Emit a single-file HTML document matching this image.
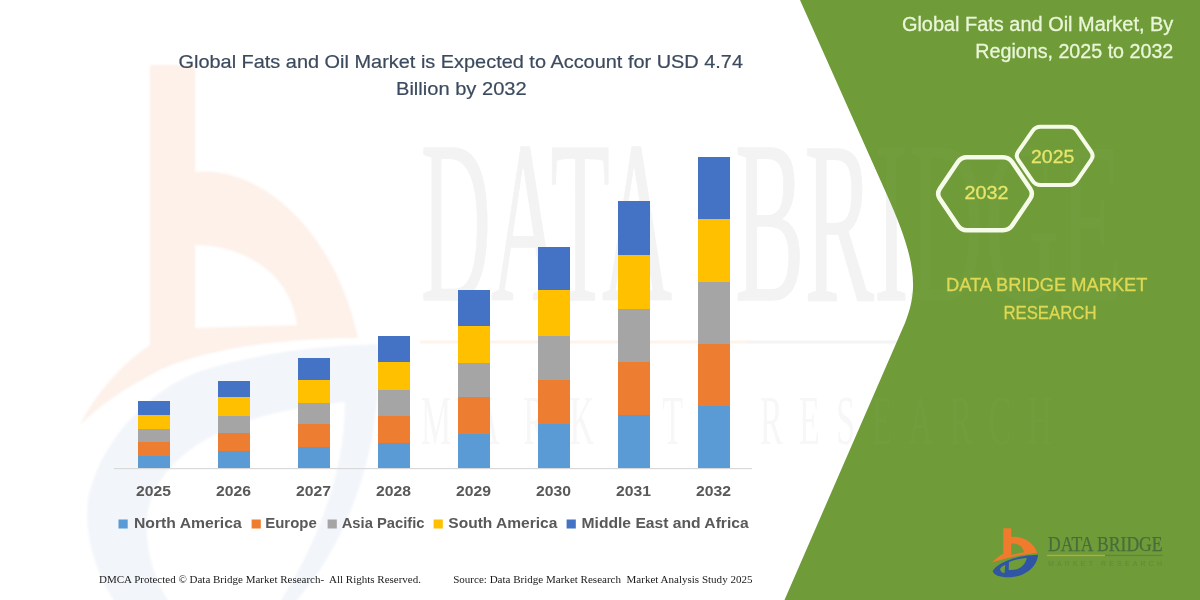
<!DOCTYPE html>
<html lang="en">
<head>
<meta charset="utf-8">
<title>Global Fats and Oil Market</title>
<style>
html,body{margin:0;padding:0;background:#fff;}
body{width:1200px;height:600px;overflow:hidden;font-family:"Liberation Sans",sans-serif;}
svg{display:block;}
.sans{font-family:"Liberation Sans",sans-serif;}
.serif{font-family:"Liberation Serif",serif;}
</style>
</head>
<body>
<svg width="1200" height="600" viewBox="0 0 1200 600">
<defs>
<filter id="blur2" x="-10%" y="-10%" width="120%" height="120%"><feGaussianBlur stdDeviation="1.2"/></filter>
<filter id="blur1" x="-10%" y="-10%" width="120%" height="120%"><feGaussianBlur stdDeviation="0.6"/></filter>
<clipPath id="panelclip"><path d="M800,0 L887,195 C904,233 914,262 913,288 C912.5,300 910,310 905,323 L784.5,600 L1200,600 L1200,0 Z"/></clipPath>
</defs>
<rect width="1200" height="600" fill="#ffffff"/>

<!-- faint watermark logo (left) -->
<g id="wm-logo" filter="url(#blur2)">
<path d="M150,65 L195,65 L195,172 C260,165 335,230 358,338 C300,338 215,345 160,370 C125,388 100,405 80,425 C95,395 120,365 150,345 Z M195,245 C240,245 290,270 297,325 L195,328 Z" fill="#fdf1ea" fill-rule="evenodd"/>
<path d="M88,500 C100,440 150,390 198,372 C260,352 320,346 378,344 C382,420 365,500 320,570 C310,585 300,595 290,610 L120,610 C95,575 84,535 88,500 Z M147,520 C150,470 200,430 280,412 C305,407 325,404 345,402 C345,470 320,540 275,610 L175,610 C155,585 145,550 147,520 Z" fill="#f2f5fa" fill-rule="evenodd"/>
</g>

<!-- faint watermark wordmark -->
<g id="wm-text" class="serif" fill="#f3f3f3" stroke="#f3f3f3" stroke-width="1.5" filter="url(#blur1)">
<text x="421" y="300" font-size="232" textLength="251" lengthAdjust="spacingAndGlyphs">DATA</text>
<text x="735" y="300" font-size="232" textLength="388" lengthAdjust="spacingAndGlyphs">BRIDGE</text>
<g font-size="34" fill="#f7f7f7" stroke="none" transform="translate(0,444) scale(1,2.05)">
<text x="421" y="0" textLength="262" lengthAdjust="spacing">MARKET</text>
<text x="760" y="0" textLength="292" lengthAdjust="spacing">RESEARCH</text>
</g>
</g>
<rect x="420" y="340.5" width="327" height="3" fill="#fdf4ec"/>
<rect x="747" y="340.5" width="150" height="3" fill="#f4f4f4"/>

<!-- green panel -->
<path id="panel" d="M800,0 L887,195 C904,233 914,262 913,288 C912.5,300 910,310 905,323 L784.5,600 L1200,600 L1200,0 Z" fill="#6f9b38"/>

<!-- watermark continuing over green -->
<g class="serif" fill="#ffffff" opacity="0.025" filter="url(#blur1)" clip-path="url(#panelclip)">
<text x="735" y="300" font-size="232" textLength="388" lengthAdjust="spacingAndGlyphs">BRIDGE</text>
<text transform="translate(0,444) scale(1,2.05)" x="760" y="0" font-size="34" textLength="292" lengthAdjust="spacing">RESEARCH</text>
</g>

<!-- axis -->
<rect x="114" y="468" width="638" height="1.2" fill="#d9d9d9"/>

<!-- bars -->
<g id="bars" shape-rendering="crispEdges">
<rect x="138" y="401" width="31.5" height="14.0" fill="#4472c4"/>
<rect x="138" y="415" width="31.5" height="14.0" fill="#ffc000"/>
<rect x="138" y="429" width="31.5" height="13.0" fill="#a5a5a5"/>
<rect x="138" y="442" width="31.5" height="14.0" fill="#ed7d31"/>
<rect x="138" y="456" width="31.5" height="12.2" fill="#5b9bd5"/>
<rect x="218" y="380.5" width="31.5" height="16.5" fill="#4472c4"/>
<rect x="218" y="397" width="31.5" height="19.0" fill="#ffc000"/>
<rect x="218" y="416" width="31.5" height="16.5" fill="#a5a5a5"/>
<rect x="218" y="432.5" width="31.5" height="18.5" fill="#ed7d31"/>
<rect x="218" y="451" width="31.5" height="17.2" fill="#5b9bd5"/>
<rect x="298" y="358" width="31.5" height="22.0" fill="#4472c4"/>
<rect x="298" y="380" width="31.5" height="22.5" fill="#ffc000"/>
<rect x="298" y="402.5" width="31.5" height="21.5" fill="#a5a5a5"/>
<rect x="298" y="424" width="31.5" height="23.0" fill="#ed7d31"/>
<rect x="298" y="447" width="31.5" height="21.2" fill="#5b9bd5"/>
<rect x="378" y="335.5" width="31.5" height="26.5" fill="#4472c4"/>
<rect x="378" y="362" width="31.5" height="28.0" fill="#ffc000"/>
<rect x="378" y="390" width="31.5" height="26.0" fill="#a5a5a5"/>
<rect x="378" y="416" width="31.5" height="26.5" fill="#ed7d31"/>
<rect x="378" y="442.5" width="31.5" height="25.7" fill="#5b9bd5"/>
<rect x="458" y="290" width="31.5" height="36.0" fill="#4472c4"/>
<rect x="458" y="326" width="31.5" height="37.0" fill="#ffc000"/>
<rect x="458" y="363" width="31.5" height="34.0" fill="#a5a5a5"/>
<rect x="458" y="397" width="31.5" height="36.5" fill="#ed7d31"/>
<rect x="458" y="433.5" width="31.5" height="34.7" fill="#5b9bd5"/>
<rect x="538" y="246.5" width="31.5" height="43.5" fill="#4472c4"/>
<rect x="538" y="290" width="31.5" height="45.5" fill="#ffc000"/>
<rect x="538" y="335.5" width="31.5" height="44.1" fill="#a5a5a5"/>
<rect x="538" y="379.6" width="31.5" height="44.4" fill="#ed7d31"/>
<rect x="538" y="424" width="31.5" height="44.2" fill="#5b9bd5"/>
<rect x="618" y="201.3" width="31.5" height="53.7" fill="#4472c4"/>
<rect x="618" y="255" width="31.5" height="53.5" fill="#ffc000"/>
<rect x="618" y="308.5" width="31.5" height="53.2" fill="#a5a5a5"/>
<rect x="618" y="361.7" width="31.5" height="53.6" fill="#ed7d31"/>
<rect x="618" y="415.3" width="31.5" height="52.9" fill="#5b9bd5"/>
<rect x="698" y="156.5" width="31.5" height="62.5" fill="#4472c4"/>
<rect x="698" y="219" width="31.5" height="63.0" fill="#ffc000"/>
<rect x="698" y="282" width="31.5" height="61.5" fill="#a5a5a5"/>
<rect x="698" y="343.5" width="31.5" height="62.3" fill="#ed7d31"/>
<rect x="698" y="405.8" width="31.5" height="62.4" fill="#5b9bd5"/>
</g>

<!-- chart title -->
<g class="sans" fill="#3b4a5e" stroke="#3b4a5e" stroke-width="0.2" font-size="18.5">
<text x="178.5" y="67.5" textLength="564.5" lengthAdjust="spacingAndGlyphs">Global Fats and Oil Market is Expected to Account for USD 4.74</text>
<text x="396" y="95" textLength="130.7" lengthAdjust="spacingAndGlyphs">Billion by 2032</text>
</g>

<!-- year labels -->
<g class="sans" fill="#595959" font-size="15.5" font-weight="bold">
<text x="153.5" y="496.4" text-anchor="middle" textLength="35" lengthAdjust="spacingAndGlyphs">2025</text>
<text x="233.5" y="496.4" text-anchor="middle" textLength="35" lengthAdjust="spacingAndGlyphs">2026</text>
<text x="313.5" y="496.4" text-anchor="middle" textLength="35" lengthAdjust="spacingAndGlyphs">2027</text>
<text x="393.5" y="496.4" text-anchor="middle" textLength="35" lengthAdjust="spacingAndGlyphs">2028</text>
<text x="473.5" y="496.4" text-anchor="middle" textLength="35" lengthAdjust="spacingAndGlyphs">2029</text>
<text x="553.5" y="496.4" text-anchor="middle" textLength="35" lengthAdjust="spacingAndGlyphs">2030</text>
<text x="633.5" y="496.4" text-anchor="middle" textLength="35" lengthAdjust="spacingAndGlyphs">2031</text>
<text x="713.5" y="496.4" text-anchor="middle" textLength="35" lengthAdjust="spacingAndGlyphs">2032</text>
</g>

<!-- legend -->
<g class="sans" fill="#595959" font-size="15.5" font-weight="bold">
<rect x="118.5" y="519.5" width="9.2" height="9" fill="#5b9bd5"/>
<text x="134" y="528" textLength="107.7" lengthAdjust="spacingAndGlyphs">North America</text>
<rect x="251.6" y="519.5" width="9.2" height="9" fill="#ed7d31"/>
<text x="265.2" y="528" textLength="51.6" lengthAdjust="spacingAndGlyphs">Europe</text>
<rect x="327.6" y="519.5" width="9.2" height="9" fill="#a5a5a5"/>
<text x="341.7" y="528" textLength="82.8" lengthAdjust="spacingAndGlyphs">Asia Pacific</text>
<rect x="433.6" y="519.5" width="9.2" height="9" fill="#ffc000"/>
<text x="448.3" y="528" textLength="109.1" lengthAdjust="spacingAndGlyphs">South America</text>
<rect x="566.6" y="519.5" width="9.2" height="9" fill="#4472c4"/>
<text x="581.5" y="528" textLength="167.2" lengthAdjust="spacingAndGlyphs">Middle East and Africa</text>
</g>

<!-- footer -->
<g class="serif" fill="#1a1a1a" font-size="11.3">
<text x="99" y="583.2" textLength="322" lengthAdjust="spacingAndGlyphs" xml:space="preserve">DMCA Protected © Data Bridge Market Research-  All Rights Reserved.</text>
<text x="453.2" y="583.2" textLength="299.3" lengthAdjust="spacingAndGlyphs" xml:space="preserve">Source: Data Bridge Market Research  Market Analysis Study 2025</text>
</g>

<!-- right panel title -->
<g class="sans" fill="#eaf6d8" stroke="#eaf6d8" stroke-width="0.3" font-size="19.5">
<text x="1173.3" y="31" text-anchor="end" textLength="271.4" lengthAdjust="spacingAndGlyphs">Global Fats and Oil Market, By</text>
<text x="1173.3" y="58" text-anchor="end" textLength="198" lengthAdjust="spacingAndGlyphs">Regions, 2025 to 2032</text>
</g>

<!-- hexagons -->
<g fill="none" stroke="#f6fbe9" stroke-linejoin="round">
<path d="M1018.2,159.9 Q1015.3,155.8 1018.2,151.7 L1032.6,130.8 Q1035.5,126.7 1040.5,126.7 L1069.0,126.7 Q1074.0,126.7 1076.8,130.8 L1091.2,151.7 Q1094.0,155.8 1091.2,159.9 L1076.8,180.8 Q1074.0,184.9 1069.0,184.9 L1040.5,184.9 Q1035.5,184.9 1032.6,180.8 Z" stroke-width="4"/>
<path d="M939.8,198.7 Q936.5,193.7 939.8,188.7 L957.7,162.2 Q961.0,157.2 967.0,157.2 L1003.0,157.2 Q1009.0,157.2 1012.3,162.2 L1030.2,188.7 Q1033.5,193.7 1030.2,198.7 L1012.3,225.2 Q1009.0,230.2 1003.0,230.2 L967.0,230.2 Q961.0,230.2 957.7,225.2 Z" stroke-width="4.5"/>
</g>
<g class="sans" fill="#e7e66b" stroke="#e7e66b" stroke-width="0.3" font-size="19">
<text x="1052.7" y="162.7" text-anchor="middle" textLength="43.3" lengthAdjust="spacingAndGlyphs">2025</text>
<text x="986.4" y="198.8" text-anchor="middle" textLength="44" lengthAdjust="spacingAndGlyphs">2032</text>
</g>

<!-- DBMR label -->
<g class="sans" fill="#dfd854" stroke="#dfd854" stroke-width="0.3" font-size="18">
<text x="946" y="291.4" textLength="201.5" lengthAdjust="spacingAndGlyphs">DATA BRIDGE MARKET</text>
<text x="1003.4" y="318.5" textLength="93.2" lengthAdjust="spacingAndGlyphs">RESEARCH</text>
</g>

<!-- logo -->
<g id="logo">
<g transform="translate(980,515)">
<path d="M23.3,13.3 L31.3,13.3 L31.3,22 C42,20.5 54,27 57.3,38 C45,39 30,42 12,47.5 C15,44 19,41 23.3,38.7 Z M31.3,28.7 C38,28 43,32 44,37.3 C40,38 35,39 31.3,40 Z" fill="#f07b2c" fill-rule="evenodd"/>
<path d="M12.7,56 C18,47 38,40 58,39.7 C57.5,50 48,60 33,62 C22,63 14,61 12.7,56 Z M29,47 C34,45 41,43.3 46.7,42.7 C46,48 42,53 36,54.5 C33,55 30,55 28.7,55 Z M20,54 C21.5,51.5 23.5,50.3 25.3,50 L24.5,58 C22,58 20.5,56.5 20,54 Z" fill="#2f55a4" fill-rule="evenodd"/>
</g>
<text class="serif" x="1048" y="551.3" font-size="20.5" fill="#476d3b" stroke="#476d3b" stroke-width="0.25" textLength="114.6" lengthAdjust="spacingAndGlyphs">DATA BRIDGE</text>
<rect x="1047" y="554.8" width="58" height="1.3" fill="#c9a23a"/>
<rect x="1105" y="554.8" width="57.5" height="1.3" fill="#5e8743"/>
<text class="sans" x="1048" y="566" font-size="7" fill="#5f8a40" textLength="114" lengthAdjust="spacing">MARKET RESEARCH</text>
</g>
</svg>
</body>
</html>
